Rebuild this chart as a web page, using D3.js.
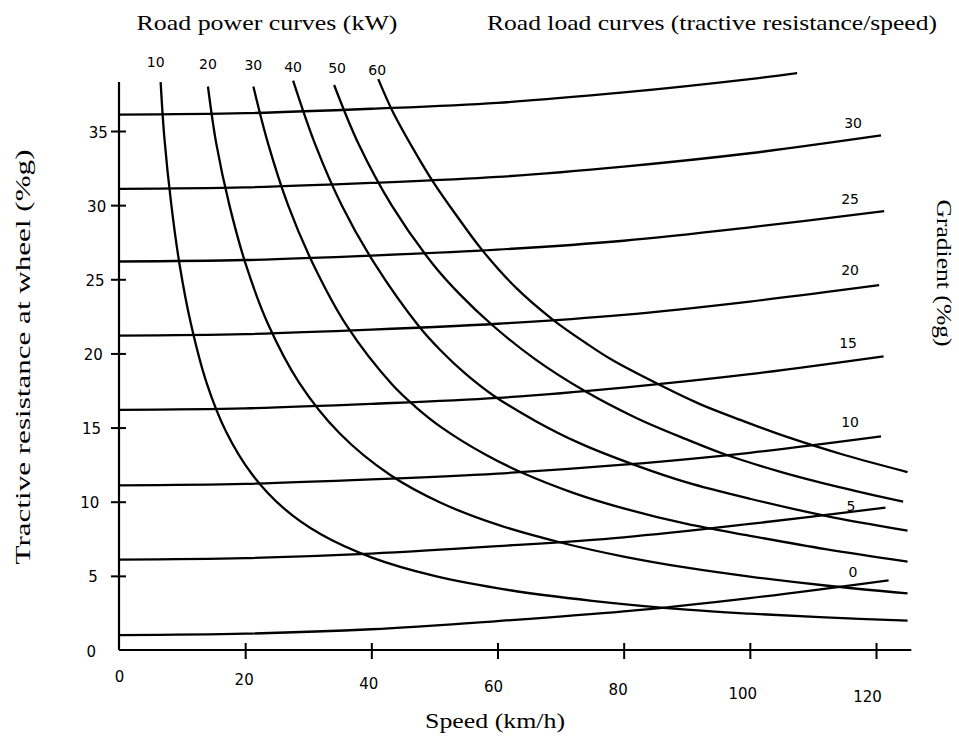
<!DOCTYPE html>
<html>
<head>
<meta charset="utf-8">
<script src="https://cdn.jsdelivr.net/npm/d3@7"></script>
<style>
  body { margin: 0; background: #fff; }
  svg { display: block; }
</style>
</head>
<body>
<script>
// axis ticks
const speedTicks = [0, 20, 40, 60, 80, 100, 120];
const resistTicks = [0, 5, 10, 15, 20, 25, 30, 35];

// road load curves: [speed km/h, tractive resistance %g], one per gradient
const gradients = [0, 5, 10, 15, 20, 25, 30, 35];
const load0  = [[0,1.0],[20,1.1],[40,1.4],[60,1.95],[80,2.6],[100,3.5],[122,4.7]];
const load5  = [[0,6.1],[20,6.2],[40,6.5],[60,7.0],[80,7.6],[100,8.5],[121.5,9.6]];
const load10 = [[0,11.1],[20,11.2],[40,11.5],[60,11.9],[80,12.5],[100,13.3],[120.8,14.4]];
const load15 = [[0,16.2],[20,16.3],[40,16.6],[60,17.0],[80,17.7],[100,18.6],[121.2,19.8]];
const load20 = [[0,21.2],[20,21.3],[40,21.6],[60,22.0],[80,22.6],[100,23.5],[120.5,24.6]];
const load25 = [[0,26.2],[20,26.3],[40,26.6],[60,27.0],[80,27.6],[100,28.5],[121.3,29.6]];
const load30 = [[0,31.1],[20,31.2],[40,31.5],[60,31.9],[80,32.6],[100,33.5],[120.8,34.7]];
const load35 = [[0,36.1],[20,36.2],[40,36.5],[60,36.9],[80,37.6],[100,38.5],[107.5,38.9]];

// road power curves (kW): [speed, tractive resistance]
const powers = [10, 20, 30, 40, 50, 60];
const power10 = [[6.6,38.3],[7.2,34.5],[8.3,30],[9.6,26],[11.4,22],[13.9,18],[17,14.7],[21,11.9],[26,9.6],[32,7.8],[40,6.25],[50,5.0],[62,4.03],[75,3.32],[90,2.72],[100,2.45],[112,2.2],[125,1.98]];
const power20 = [[14.1,38.0],[15.4,34.2],[17.5,30],[20.1,26],[23.6,22],[28.6,18],[35,14.6],[43,11.8],[51,9.93],[60,8.45],[70,7.25],[80,6.3],[90,5.55],[100,4.95],[112,4.35],[125,3.82]];
const power30 = [[21.3,38.0],[23.6,34.2],[26.8,30],[30.8,26],[36.2,21.8],[43.3,17.9],[47,16.4],[51,15.05],[58,13.2],[64.2,11.9],[72,10.6],[80,9.55],[90,8.5],[100,7.7],[112,6.8],[125,5.96]];
const power40 = [[27.6,38.4],[31.1,34.1],[35.3,30],[40.6,26],[47.6,21.8],[51,20.2],[55,18.6],[59.4,17.15],[66,15.45],[73,13.95],[81.6,12.5],[90,11.3],[100,10.2],[112,9.05],[125,8.05]];
const power50 = [[34.1,38.1],[38.0,34.1],[43.2,30],[49.8,26],[54,24],[59.2,21.9],[66,19.6],[73.7,17.5],[82,15.65],[90,14.2],[96,13.2],[105,12.0],[114,11.0],[124.3,10.0]];
const power60 = [[41.1,38.5],[43.4,36.3],[46.5,33.9],[49.9,31.5],[53.5,29.3],[57.7,26.9],[63,24.4],[68.7,22.3],[74,20.7],[78.2,19.55],[85.6,17.9],[92,16.6],[98.6,15.5],[106,14.35],[115,13.15],[125,12.0]];

const loadCurves = [load0, load5, load10, load15, load20, load25, load30, load35];
const powerCurves = [power10, power20, power30, power40, power50, power60];

const W = 959, H = 738;
const numFont = "'DejaVu Sans', sans-serif";
const titleFont = "'Liberation Serif', 'Times New Roman', serif";

const svg = d3.select("body").append("svg")
  .attr("width", W)
  .attr("height", H)
  .style("background", "#fff");

const x = d3.scaleLinear().domain([0, 120]).range([119, 876]);
const y = d3.scaleLinear().domain([0, 35]).range([650, 131]);

const line = d3.line()
  .x(d => x(d[0]))
  .y(d => y(d[1]))
  .curve(d3.curveCatmullRom.alpha(0.5));

// axis lines
svg.append("line")
  .attr("x1", x(0)).attr("x2", x(125.6))
  .attr("y1", y(0)).attr("y2", y(0))
  .attr("stroke", "#000").attr("stroke-width", 2.2);
svg.append("line")
  .attr("x1", x(0)).attr("x2", x(0))
  .attr("y1", y(0)).attr("y2", y(38.3))
  .attr("stroke", "#000").attr("stroke-width", 2.2);

// x axis
const gx = svg.append("g")
  .attr("transform", "translate(0," + y(0) + ")")
  .call(d3.axisBottom(x).tickValues(speedTicks).tickSize(9));
gx.select(".domain").remove();
gx.selectAll(".tick line")
  .attr("y1", -7)
  .attr("stroke-width", 2)
  .style("display", d => d === 0 ? "none" : null);
gx.selectAll(".tick text")
  .attr("y", 0)
  .attr("dy", 0)
  .attr("transform", d => "translate(" + (-0.075 * d) + "," + (32 + 0.167 * d) + ")")
  .attr("font-family", numFont)
  .attr("font-size", 15)
  .attr("fill", "#000");

// y axis
const gy = svg.append("g")
  .attr("transform", "translate(" + x(0) + ",0)")
  .call(d3.axisLeft(y).tickValues(resistTicks).tickSize(8));
gy.select(".domain").remove();
gy.selectAll(".tick line")
  .attr("x1", 7)
  .attr("x2", -8)
  .attr("stroke-width", 2)
  .style("display", d => d === 0 ? "none" : null);
gy.selectAll(".tick text")
  .attr("x", d => -23 + 0.34 * d)
  .attr("dy", "0.4em")
  .attr("font-family", numFont)
  .attr("font-size", 15)
  .attr("fill", "#000");

// road load curves
svg.append("g")
  .selectAll("path")
  .data(loadCurves)
  .enter()
  .append("path")
  .attr("d", line)
  .attr("fill", "none")
  .attr("stroke", "#000")
  .attr("stroke-width", 2.3);

// road power curves
svg.append("g")
  .selectAll("path")
  .data(powerCurves)
  .enter()
  .append("path")
  .attr("d", line)
  .attr("fill", "none")
  .attr("stroke", "#000")
  .attr("stroke-width", 2.3);

// power labels above curve tops
svg.append("g")
  .selectAll("text")
  .data(powers)
  .enter()
  .append("text")
  .attr("x", (d, i) => x(powerCurves[i][0][0]) + [-5, 0, 0, 0, 3, -1][i])
  .attr("y", (d, i) => 67 + 1.5 * i)
  .attr("text-anchor", "middle")
  .attr("font-family", numFont)
  .attr("font-size", 14)
  .text(d => d);

// gradient labels near curve ends (35 is unlabelled)
const gradDy = [-8, -2, -14, -13, -15, -12, -12];
const gradDx = [-4, -6, -7, -9, -7, -7, -4];
svg.append("g")
  .selectAll("text")
  .data(gradients.slice(0, 7))
  .enter()
  .append("text")
  .attr("x", (d, i) => x(117) + gradDx[i])
  .attr("y", (d, i) => {
    const pts = loadCurves[i];
    return y(pts[pts.length - 1][1]) + gradDy[i];
  })
  .attr("text-anchor", "middle")
  .attr("dy", "0.35em")
  .attr("font-family", numFont)
  .attr("font-size", 14)
  .text(d => d);

// titles
svg.append("text")
  .attr("x", 267).attr("y", 30)
  .attr("text-anchor", "middle")
  .attr("font-family", titleFont)
  .attr("font-size", 22)
  .attr("textLength", 261)
  .attr("lengthAdjust", "spacingAndGlyphs")
  .text("Road power curves (kW)");

svg.append("text")
  .attr("x", 712).attr("y", 30)
  .attr("text-anchor", "middle")
  .attr("font-family", titleFont)
  .attr("font-size", 22)
  .attr("textLength", 450)
  .attr("lengthAdjust", "spacingAndGlyphs")
  .text("Road load curves (tractive resistance/speed)");

svg.append("text")
  .attr("x", 495).attr("y", 728)
  .attr("text-anchor", "middle")
  .attr("font-family", titleFont)
  .attr("font-size", 22)
  .attr("textLength", 140)
  .attr("lengthAdjust", "spacingAndGlyphs")
  .text("Speed (km/h)");

svg.append("text")
  .attr("transform", "translate(30,357) rotate(-90)")
  .attr("text-anchor", "middle")
  .attr("font-family", titleFont)
  .attr("font-size", 22)
  .attr("textLength", 415)
  .attr("lengthAdjust", "spacingAndGlyphs")
  .text("Tractive resistance at wheel (%g)");

svg.append("text")
  .attr("transform", "translate(937,273) rotate(90)")
  .attr("text-anchor", "middle")
  .attr("font-family", titleFont)
  .attr("font-size", 22)
  .attr("textLength", 147)
  .attr("lengthAdjust", "spacingAndGlyphs")
  .text("Gradient (%g)");
</script>
</body>
</html>
